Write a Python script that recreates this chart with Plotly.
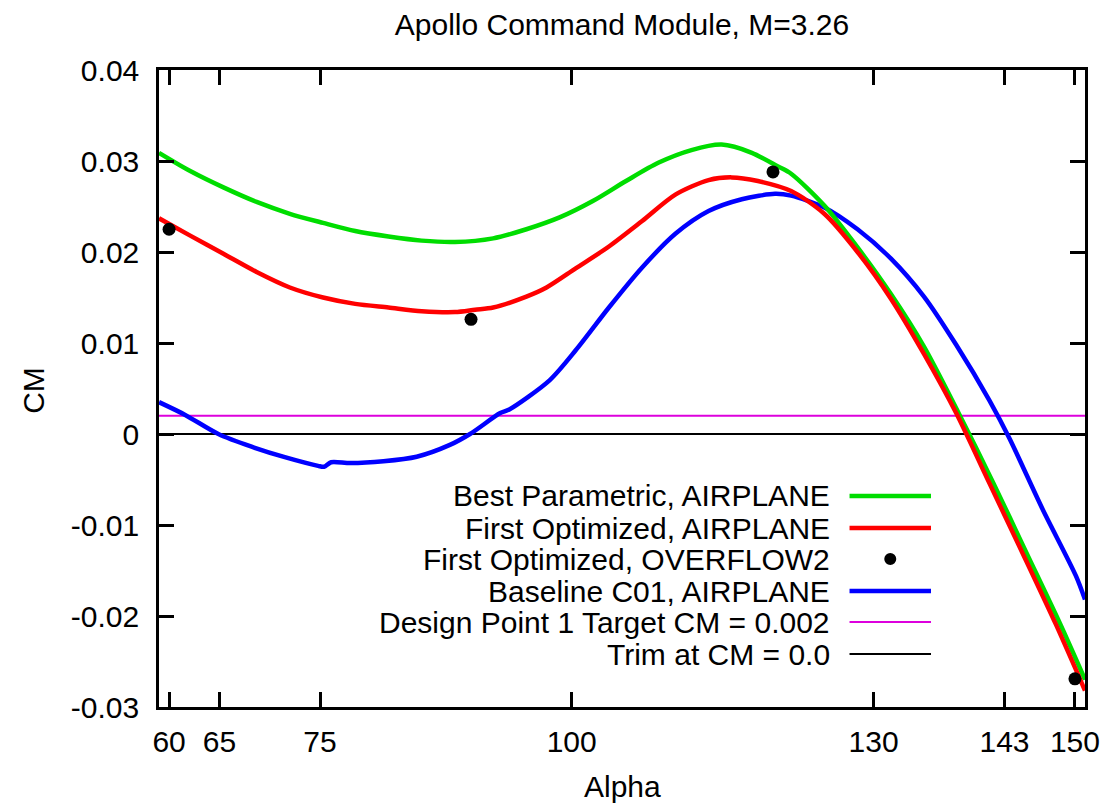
import plotly.graph_objects as go

# ---------------- data ----------------
alpha_best = [59.0, 62.1, 65.4, 68.7, 72.0, 75.3, 78.5, 81.8, 85.1, 88.4, 92.2, 95.5, 98.8,
              102.1, 105.4, 108.6, 111.9, 114.9, 117.9, 120.5, 121.8, 125.1, 128.4, 131.7,
              135.0, 138.4, 141.9, 145.2, 148.5, 151.0]
cm_best = [0.0309, 0.0289, 0.0271, 0.0255, 0.0242, 0.0232, 0.0223, 0.0217, 0.02125, 0.0211,
           0.0215, 0.0225, 0.0238, 0.0256, 0.0278, 0.0298, 0.0312, 0.0318, 0.0309, 0.0294,
           0.0286, 0.0251, 0.0205, 0.0154, 0.0096, 0.0024, -0.0054, -0.0131, -0.0208, -0.0270]

alpha_opt = [59.0, 62.1, 65.4, 68.7, 72.0, 75.3, 78.5, 81.8, 85.1, 88.4, 90.4, 92.2, 95.5,
             97.5, 100.4, 103.7, 107.0, 110.3, 113.6, 115.9, 118.5, 121.8, 125.1, 128.4,
             131.7, 135.0, 138.2, 141.5, 144.8, 148.1, 151.0]
cm_opt = [0.0237, 0.0218, 0.0198, 0.0178, 0.0161, 0.0150, 0.0143, 0.0139, 0.0135, 0.0134,
          0.01366, 0.0139, 0.0151, 0.0161, 0.0182, 0.0206, 0.0234, 0.0263, 0.0279, 0.0282,
          0.0278, 0.0267, 0.0242, 0.0200, 0.0149, 0.0088, 0.0023, -0.0054, -0.0131, -0.0209,
          -0.0282]

alpha_ovf = [60, 90, 120, 150]
cm_ovf = [0.0225, 0.0126, 0.0288, -0.0269]

alpha_base = [59.0, 61.6, 64.9, 68.2, 71.5, 74.8, 75.4, 76.1, 78.0, 81.3, 84.6, 87.9, 89.9,
              92.9, 93.8, 97.8, 100.4, 103.7, 107.0, 110.3, 113.6, 116.9, 120.2, 121.8,
              125.1, 128.4, 131.7, 135.0, 138.2, 141.5, 143.5, 146.8, 150.1, 151.0]
cm_base = [0.0035, 0.0021, 0.0000, -0.0014, -0.00255, -0.0035, -0.0036, -0.0031, -0.0032,
           -0.0030, -0.0025, -0.0012, 0.0000, 0.0023, 0.0027, 0.0059, 0.0092, 0.0139, 0.0183,
           0.0220, 0.0245, 0.0258, 0.0264, 0.0262, 0.0249, 0.0225, 0.0193, 0.0151, 0.0098,
           0.0037, -0.0005, -0.0083, -0.0156, -0.0182]

target_cm = 0.002
trim_cm = 0.0

x_range = [59, 151]
y_range = [-0.03, 0.04]
x_ticks = [60, 65, 75, 100, 130, 143, 150]
y_ticks = [-0.03, -0.02, -0.01, 0.0, 0.01, 0.02, 0.03, 0.04]
y_tick_text = ["-0.03", "-0.02", "-0.01", "0", "0.01", "0.02", "0.03", "0.04"]

legend_names = ["Best Parametric, AIRPLANE", "First Optimized, AIRPLANE",
                "First Optimized, OVERFLOW2", "Baseline C01, AIRPLANE",
                "Design Point 1 Target CM = 0.002", "Trim at CM = 0.0"]

# ---------------- style ----------------
GREEN = "#00dd00"
RED = "#ff0000"
BLUE = "#0000ff"
MAGENTA = "#dd00dd"
BLACK = "#000000"
FONT = "Liberation Sans, Arial, sans-serif"
FS = 30

OFF = 8   # default page body margin
DX = 2    # small horizontal correction
W, H = 1112 - OFF, 805 - OFF
ML = 157 - OFF + DX
MT = 70 - OFF
MR = W - (1089 - OFF + DX)
MB = H - (707 - OFF)
PW, PH = W - ML - MR, H - MT - MB


def px_x(px):
    """reference page pixel x -> paper fraction"""
    return (px - OFF + DX - ML) / PW


def px_y(py):
    """reference page pixel y -> paper fraction"""
    return (H - MB - (py - OFF)) / PH


fig = go.Figure()

fig.add_trace(go.Scatter(x=x_range, y=[target_cm, target_cm], mode="lines",
                         line=dict(color=MAGENTA, width=2), name=legend_names[4]))
fig.add_trace(go.Scatter(x=x_range, y=[trim_cm, trim_cm], mode="lines",
                         line=dict(color=BLACK, width=2), name=legend_names[5]))
fig.add_trace(go.Scatter(x=alpha_base, y=cm_base, mode="lines",
                         line=dict(color=BLUE, width=4.5, shape="spline", smoothing=0.8),
                         name=legend_names[3]))
fig.add_trace(go.Scatter(x=alpha_best, y=cm_best, mode="lines",
                         line=dict(color=GREEN, width=4.5, shape="spline", smoothing=0.8),
                         name=legend_names[0]))
fig.add_trace(go.Scatter(x=alpha_opt, y=cm_opt, mode="lines",
                         line=dict(color=RED, width=4.5, shape="spline", smoothing=0.8),
                         name=legend_names[1]))
fig.add_trace(go.Scatter(x=alpha_ovf, y=cm_ovf, mode="markers",
                         marker=dict(color=BLACK, size=13), name=legend_names[2],
                         cliponaxis=False))

# manual gnuplot-style legend: text right aligned, sample on the right
row_py = [496, 528, 559, 591, 622, 654]
samples = [("line", GREEN, 4.5), ("line", RED, 4.5), ("dot", BLACK, 13),
           ("line", BLUE, 4.5), ("line", MAGENTA, 2), ("line", BLACK, 2)]
annotations = []
shapes = []
for name, py, (kind, col, w) in zip(legend_names, row_py, samples):
    annotations.append(dict(text=name, x=px_x(834), y=px_y(py), xref="paper", yref="paper",
                            xanchor="right", yanchor="middle", showarrow=False,
                            font=dict(family=FONT, size=FS, color=BLACK)))
    if kind == "line":
        shapes.append(dict(type="line", xref="paper", yref="paper",
                           x0=px_x(852), x1=px_x(934), y0=px_y(py), y1=px_y(py),
                           line=dict(color=col, width=w)))
    else:
        shapes.append(dict(type="circle", xref="paper", yref="paper",
                           xsizemode="pixel", ysizemode="pixel",
                           xanchor=px_x(893), yanchor=px_y(py),
                           x0=-6, x1=6, y0=-6, y1=6,
                           fillcolor=col, line=dict(color=col, width=0)))

# axis titles
annotations.append(dict(text="Alpha", x=px_x(623), y=px_y(786), xref="paper", yref="paper",
                        xanchor="center", yanchor="middle", showarrow=False,
                        font=dict(family=FONT, size=FS, color=BLACK)))
annotations.append(dict(text="CM", x=px_x(30), y=px_y(390), xref="paper", yref="paper",
                        xanchor="center", yanchor="middle", showarrow=False, textangle=-90,
                        font=dict(family=FONT, size=FS, color=BLACK)))

axis_common = dict(showline=True, linecolor=BLACK, linewidth=2.5, mirror="ticks",
                   ticks="inside", ticklen=15, tickwidth=2.5, tickcolor=BLACK,
                   showgrid=False, zeroline=False,
                   tickfont=dict(family=FONT, size=FS, color=BLACK))

fig.update_layout(
    width=W, height=H, autosize=False,
    margin=dict(l=ML, r=MR, t=MT, b=MB),
    paper_bgcolor="white", plot_bgcolor="white",
    showlegend=False,
    title=dict(text="Apollo Command Module, M=3.26", x=px_x(623), xref="paper",
               xanchor="center", y=1 - (24 - OFF) / H, yref="container", yanchor="middle",
               font=dict(family=FONT, size=FS, color=BLACK)),
    xaxis=dict(range=x_range, tickvals=x_ticks, ticklabelstandoff=6, **axis_common),
    yaxis=dict(range=y_range, tickvals=y_ticks, ticktext=y_tick_text,
               ticklabelstandoff=11, **axis_common),
    annotations=annotations,
    shapes=shapes,
)

fig.write_html("out.html")
